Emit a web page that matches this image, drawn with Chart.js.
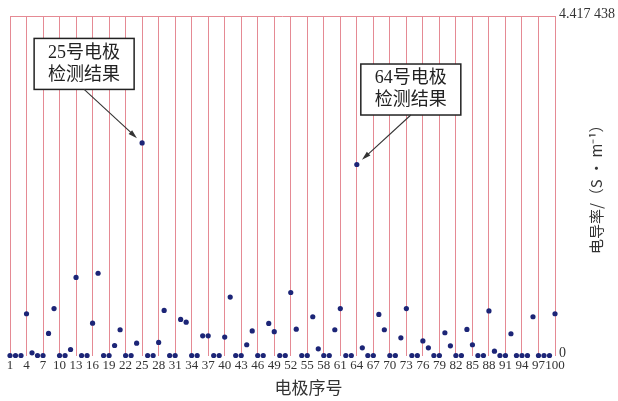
<!DOCTYPE html>
<html><head><meta charset="utf-8">
<script src="https://cdn.jsdelivr.net/npm/chart.js@4/dist/chart.umd.min.js"></script>
<style>html,body{margin:0;padding:0;background:#fff}#wrap{width:618px;height:401px}</style>
</head><body><div id="wrap"><canvas id="c" width="618" height="401"></canvas></div>
<script>
const electrodeIds = [1,2,3,4,5,6,7,8,9,10,11,12,13,14,15,16,17,18,19,20,21,22,23,24,25,26,27,28,29,30,31,32,33,34,35,36,37,38,39,40,41,42,43,44,45,46,47,48,49,50,51,52,53,54,55,56,57,58,59,60,61,62,63,64,65,66,67,68,69,70,71,72,73,74,75,76,77,78,79,80,81,82,83,84,85,86,87,88,89,90,91,92,93,94,95,96,97,98,99,100];
const conductivity = [
  0, 0, 0, 0.543, 0.035, 0, 0, 0.287, 0.61, 0,
  0, 0.078, 1.016, 0, 0, 0.42, 1.07, 0, 0, 0.13,
  0.335, 0, 0, 0.16, 2.766, 0, 0, 0.17, 0.586, 0,
  0, 0.47, 0.434, 0, 0, 0.256, 0.256, 0, 0, 0.24,
  0.76, 0, 0, 0.14, 0.32, 0, 0, 0.417, 0.31, 0,
  0, 0.82, 0.343, 0, 0, 0.504, 0.087, 0, 0, 0.335,
  0.61, 0, 0, 2.485, 0.1, 0, 0, 0.534, 0.335, 0,
  0, 0.23, 0.61, 0, 0, 0.19, 0.1, 0, 0, 0.296,
  0.126, 0, 0, 0.339, 0.14, 0, 0, 0.58, 0.056, 0,
  0, 0.283, 0, 0, 0, 0.504, 0, 0, 0, 0.543
];
const xTickValues = [1,4,7,10,13,16,19,22,25,28,31,34,37,40,43,46,49,52,55,58,61,64,67,70,73,76,79,82,85,88,91,94,97,100];
const yTickValues = [0, 4.417438];
const yTickLabels = ['0', '4.417 438'];
const xTitle = '电极序号';
const yTitle = '电导率/（S · m⁻¹）';
const calloutIds = [25, 64];
const calloutLines = [['25号电极', '检测结果'], ['64号电极', '检测结果']];

const GRID = '#e58a94';
const calloutOffsets = [{dx: -58, dy: -79}, {dx: 54, dy: -75}];

const titlesPlugin = {
  id: 'titles',
  afterDraw(chart) {
    const ctx = chart.ctx, a = chart.chartArea;
    ctx.save();
    ctx.fillStyle = '#333';
    ctx.font = "17px 'Noto Sans CJK SC'";
    ctx.textAlign = 'center';
    ctx.textBaseline = 'middle';
    ctx.fillText(xTitle, (a.left + a.right) / 2 + 26, 388);
    ctx.translate(596, (a.top + a.bottom) / 2);
    ctx.rotate(-Math.PI / 2);
    ctx.font = "15px 'Noto Sans CJK SC'";
    ctx.fillText(yTitle, 0, 0);
    ctx.restore();
  }
};

const calloutPlugin = {
  id: 'callouts',
  afterDatasetsDraw(chart) {
    const ctx = chart.ctx, xs = chart.scales.x, ys = chart.scales.y;
    ctx.save();
    calloutIds.forEach((id, k) => {
      const i = electrodeIds.indexOf(id);
      const px = xs.getPixelForValue(id), py = ys.getPixelForValue(conductivity[i]);
      const off = calloutOffsets[k];
      const cx = px + off.dx, cy = py + off.dy;
      const w = 100, h = 51;
      ctx.fillStyle = '#fff';
      ctx.fillRect(cx - w / 2, cy - h / 2, w, h);
      ctx.strokeStyle = '#222';
      ctx.lineWidth = 1.5;
      ctx.strokeRect(cx - w / 2, cy - h / 2, w, h);
      ctx.fillStyle = '#222';
      ctx.font = "18px 'Liberation Serif','Noto Sans CJK SC'";
      ctx.textAlign = 'center';
      ctx.textBaseline = 'middle';
      ctx.fillText(calloutLines[k][0], cx, cy - 11);
      ctx.fillText(calloutLines[k][1], cx, cy + 11);
      // arrow
      const sx = cx, sy = cy + h / 2;
      const ang = Math.atan2(py - sy, px - sx);
      const dist = Math.hypot(px - sx, py - sy) - 7;
      const tx = sx + Math.cos(ang) * dist, ty = sy + Math.sin(ang) * dist;
      ctx.strokeStyle = '#333';
      ctx.lineWidth = 1.1;
      ctx.beginPath();
      ctx.moveTo(sx, sy);
      ctx.lineTo(tx - Math.cos(ang) * 4, ty - Math.sin(ang) * 4);
      ctx.stroke();
      ctx.fillStyle = '#333';
      ctx.beginPath();
      ctx.moveTo(tx, ty);
      ctx.lineTo(tx - Math.cos(ang) * 9 + Math.sin(ang) * 2.6, ty - Math.sin(ang) * 9 - Math.cos(ang) * 2.6);
      ctx.lineTo(tx - Math.cos(ang) * 9 - Math.sin(ang) * 2.6, ty - Math.sin(ang) * 9 + Math.cos(ang) * 2.6);
      ctx.closePath();
      ctx.fill();
    });
    ctx.restore();
  }
};

new Chart(document.getElementById('c'), {
  type: 'scatter',
  data: {
    datasets: [{
      data: electrodeIds.map((id, i) => ({x: id, y: conductivity[i]})),
      backgroundColor: '#1c2577',
      borderWidth: 0,
      pointRadius: 2.6,
      clip: false
    }]
  },
  options: {
    responsive: false,
    animation: false,
    devicePixelRatio: 1,
    layout: {padding: {left: 10, top: 16, right: 0, bottom: 0}},
    plugins: {legend: {display: false}, tooltip: {enabled: false}},
    scales: {
      x: {
        type: 'linear', min: 1, max: 100,
        afterBuildTicks: s => { s.ticks = xTickValues.map(v => ({value: v})); },
        afterFit: s => { s.height = 45.5; },
        grid: {color: GRID, lineWidth: 1, drawTicks: false},
        border: {display: false},
        ticks: {
          autoSkip: false, maxRotation: 0, minRotation: 0, padding: 2,
          color: '#333',
          font: {family: "'Liberation Serif'", size: 13},
          callback: v => String(v)
        }
      },
      y: {
        position: 'right',
        min: 0, max: 4.417438,
        afterBuildTicks: s => { s.ticks = yTickValues.map(v => ({value: v})); },
        afterFit: s => { s.width = 63; },
        grid: {
          drawTicks: false,
          lineWidth: 1,
          color: c => (c.tick && c.tick.value > 0 ? GRID : 'rgba(0,0,0,0)')
        },
        border: {display: false},
        ticks: {
          padding: 4, labelOffset: -2,
          color: '#333',
          font: {family: "'Liberation Serif'", size: 14},
          callback: (v) => yTickLabels[yTickValues.indexOf(v)] ?? ''
        }
      }
    }
  },
  plugins: [calloutPlugin, titlesPlugin]
});
</script>
</body></html>
